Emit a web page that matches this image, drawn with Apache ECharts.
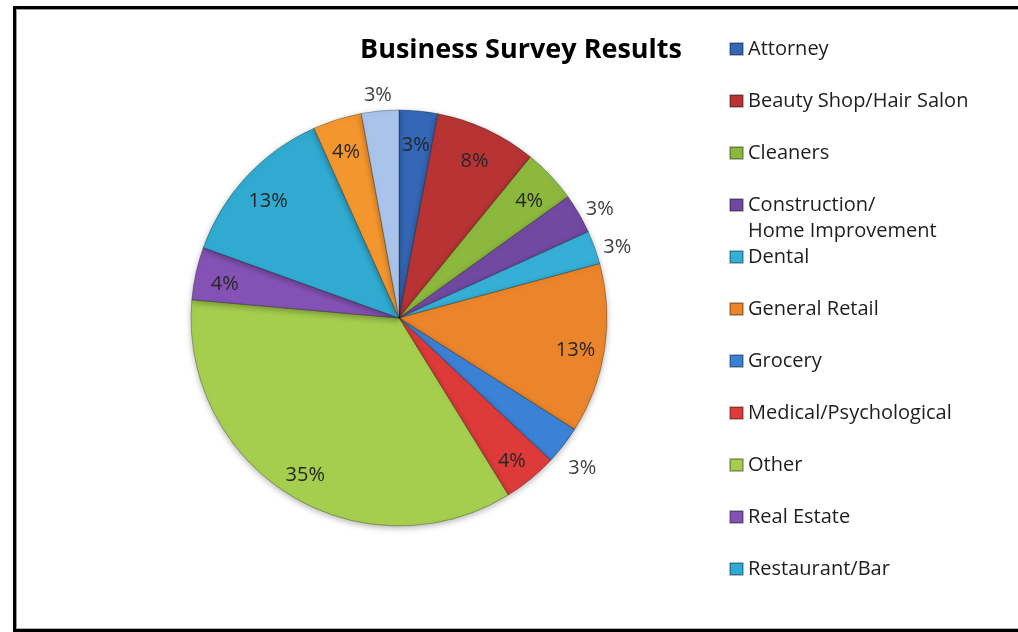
<!DOCTYPE html>
<html>
<head>
<meta charset="utf-8">
<script src="https://cdn.jsdelivr.net/npm/echarts@6/dist/echarts.min.js"></script>
<style>
html,body{margin:0;padding:0;background:#fff;width:1018px;height:632px;overflow:hidden;}
#frame{position:absolute;left:13px;top:6px;width:1030px;height:620px;border:3px solid #000;box-shadow:inset 1px 1px 0 #9a9a9a, inset 0 -1px 0 #b0b0b0;}
#chart{position:absolute;left:0;top:0;width:1018px;height:632px;}
</style>
</head>
<body>
<div id="frame"></div>
<div id="chart"></div>
<script>
// Data (percent of respondents)
const categories = [
  'Attorney',
  'Beauty Shop/Hair Salon',
  'Cleaners',
  'Construction/\nHome Improvement',
  'Dental',
  'General Retail',
  'Grocery',
  'Medical/Psychological',
  'Other',
  'Real Estate',
  'Restaurant/Bar',
  'Unlabeled 1',
  'Unlabeled 2'
];
const values = [3.0, 7.9, 4.2, 3.1, 2.6, 13.2, 3.0, 4.2, 35.2, 4.1, 12.8, 3.8, 2.9];
// legend in the picture only lists the first 11 categories
const legendItems = categories.slice(0, 11);
// slices whose labels sit outside the pie
const outsideLabels = ['Construction/\nHome Improvement', 'Dental', 'Grocery', 'Unlabeled 2'];

const colors = ['#3467b6', '#b83434', '#8cb83e', '#7249a2', '#36afd6', '#ea852b',
                '#3b82d6', '#de3a3a', '#a5cd4e', '#8452b4', '#30aad0', '#f3962e', '#aac3ea'];

const FONT = '"Open Sans", Lato, sans-serif';
const pctFmt = p => Math.round(p.percent) + '%';

const mainData = categories.map((n, i) => ({
  name: n, value: values[i],
  itemStyle: { color: colors[i] }
}));
const inData = categories.map((n, i) => ({
  name: n, value: values[i],
  label: { show: outsideLabels.indexOf(n) < 0 }
}));
const outData = categories.map((n, i) => ({
  name: n, value: values[i],
  label: { show: outsideLabels.indexOf(n) >= 0 }
}));

const chart = echarts.init(document.getElementById('chart'), null, { renderer: 'canvas' });
chart.setOption({
  animation: false,
  backgroundColor: 'transparent',
  title: {
    text: 'Business Survey Results',
    left: 355, top: 32,
    textStyle: { fontFamily: FONT, fontSize: 27, fontWeight: 'bold', color: '#000' }
  },
  legend: {
    data: legendItems,
    orient: 'vertical',
    left: 724, top: 18,
    itemWidth: 13, itemHeight: 12, itemGap: -10,
    icon: 'rect',
    selectedMode: false,
    formatter: function (name) {
      const parts = name.split('\n');
      return '{a|' + parts[0] + '}\n{b|' + (parts.length > 1 ? parts[1] : '\u00a0') + '}';
    },
    textStyle: {
      fontFamily: FONT, fontSize: 20, color: '#1e1e1e', lineHeight: 52,
      rich: {
        a: { fontFamily: FONT, fontSize: 20, color: '#1e1e1e', lineHeight: 52 },
        b: { fontFamily: FONT, fontSize: 20, color: '#1e1e1e', lineHeight: 0 }
      }
    }
  },
  series: [
    {
      type: 'pie',
      center: [399, 318],
      radius: [0, 208],
      startAngle: 90,
      clockwise: true,
      label: { show: false },
      labelLine: { show: false },
      emphasis: { disabled: true },
      itemStyle: {
        borderColor: 'rgba(0,0,0,0.28)', borderWidth: 1,
        shadowBlur: 6, shadowColor: 'rgba(0,0,0,0.3)', shadowOffsetY: 2
      },
      data: mainData
    },
    {
      type: 'pie',
      center: [399, 323],
      radius: [143, 208],
      silent: true,
      legendHoverLink: false,
      itemStyle: { color: 'rgba(0,0,0,0)' },
      label: { position: 'inside', formatter: pctFmt, fontFamily: FONT, fontSize: 20, color: '#262626' },
      labelLine: { show: false },
      emphasis: { disabled: true },
      data: inData
    },
    {
      type: 'pie',
      center: [399, 326],
      radius: [208, 250],
      silent: true,
      legendHoverLink: false,
      itemStyle: { color: 'rgba(0,0,0,0)' },
      label: { position: 'inside', formatter: pctFmt, fontFamily: FONT, fontSize: 20, color: '#404040' },
      labelLine: { show: false },
      emphasis: { disabled: true },
      data: outData
    }
  ]
});
</script>
</body>
</html>
